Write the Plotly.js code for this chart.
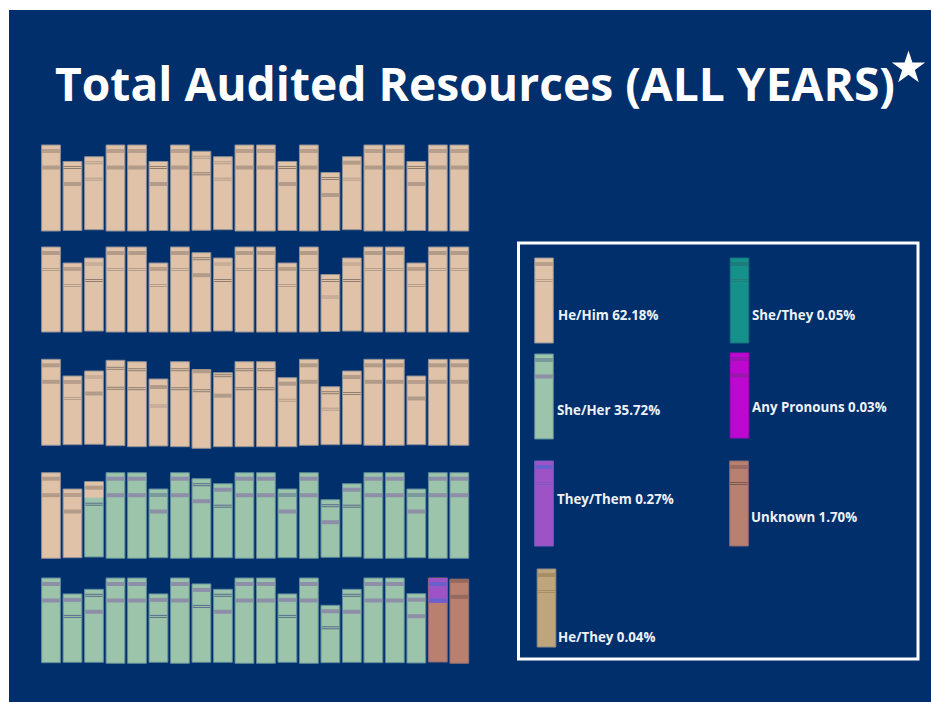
<!DOCTYPE html>
<html>
<head>
<meta charset="utf-8">
<script src="https://cdn.plot.ly/plotly-3.0.1.min.js"></script>
<style>body { margin: 0; background: #fff; }</style>
</head>
<body>
<div id="chart" style="width:932px;height:702px"></div>
<script>
var chartTitle = 'Total Audited Resources (ALL YEARS)';

var seriesKeys = ['he', 'she', 'they', 'hethey', 'shethey', 'any', 'unknown'];
var seriesNames = ['He/Him', 'She/Her', 'They/Them', 'He/They', 'She/They', 'Any Pronouns', 'Unknown'];
var seriesShares = ['62.18%', '35.72%', '0.27%', '0.04%', '0.05%', '0.03%', '1.70%'];
var seriesBookHeights = [85, 85, 85, 78, 85, 85, 85];
var seriesBookStripes = ['dt', 'db', 'bt', 'bt', 'dt', 'db', 'dd'];

// book heights on each shelf
var shelf1Heights = [86, 69, 73, 86, 86, 69, 86, 79, 73, 86, 86, 69, 86, 58, 73, 86, 86, 69, 86, 86];
var shelf2Heights = [85, 69, 73, 85, 85, 69, 85, 79, 73, 85, 85, 69, 85, 57, 73, 85, 85, 69, 85, 85];
var shelf3Heights = [86, 68.7, 73.3, 85.4, 85, 67, 85, 78.6, 74, 85, 85, 69, 86, 58, 73.3, 86, 86, 68.7, 86, 86];
var shelf4Heights = [85.6, 68.7, 75.3, 85.6, 85.6, 68.7, 85.6, 79, 74, 85.6, 85.6, 68.7, 85.6, 57.6, 73.3, 85.6, 85.6, 68.7, 85.6, 85.6];
var shelf5Heights = [84.7, 68.4, 73, 85.3, 85.3, 68.4, 85.3, 78.4, 73, 85.3, 85.3, 68.4, 85.3, 57.4, 73, 84.7, 84.7, 69.3, 84, 84];

// how far each book's foot sits above the shelf line
var shelf1Lifts = [0, 0.5, 1.3, 0, 0, 0.5, 0, 0.7, 1.3, 0, 0, 0.5, 0, 0.5, 1.3, 0, 0, 0.5, 0, 0];
var shelf2Lifts = [0, 0, 1, 0, 0, 0, 0, 0.3, 1, 0, 0, 0, 0, 0.5, 1, 0, 0, 0, 0, 0];
var shelf3Lifts = [0.7, 1.3, 1.7, 0.3, -0.7, 0, -0.7, -2.3, -0.7, -0.7, -0.7, -0.7, 0.7, 1.3, 1.7, 0.7, 0.7, 1.3, 0.7, 0.7];
var shelf4Lifts = [-0.3, 0.3, 1, -0.3, -0.3, 0.3, -0.3, 0.3, 0.3, -0.3, -0.3, 0.3, -0.3, 0.7, 1, -0.3, -0.3, 0.3, -0.3, -0.3];
var shelf5Lifts = [0.3, 0.7, 0.7, -0.3, -0.3, 0.7, -0.3, 0.7, 0.7, -0.3, -0.3, 0.7, -0.3, 0.3, 0.7, 0.3, 0.3, 0, 1, -0.3];

var shelf1Series = ['he', 'he', 'he', 'he', 'he', 'he', 'he', 'he', 'he', 'he', 'he', 'he', 'he', 'he', 'he', 'he', 'he', 'he', 'he', 'he'];
var shelf2Series = shelf1Series;
var shelf3Series = shelf1Series;
var shelf4Series = ['he', 'he', 'she', 'she', 'she', 'she', 'she', 'she', 'she', 'she', 'she', 'she', 'she', 'she', 'she', 'she', 'she', 'she', 'she', 'she'];
var shelf5Series = ['she', 'she', 'she', 'she', 'she', 'she', 'she', 'she', 'she', 'she', 'she', 'she', 'she', 'she', 'she', 'she', 'she', 'she', 'unknown', 'unknown'];

// stripe kinds on each book, upper then lower
var shelf1Stripes = ['db', 'db', 'tt', 'db', 'db', 'db', 'db', 'td', 'tt', 'db', 'db', 'db', 'db', 'db', 'bt', 'db', 'db', 'db', 'db', 'db'];
var shelf2Stripes = ['bt', 'dt', 'td', 'bt', 'bt', 'dt', 'bt', 'db', 'td', 'bt', 'bt', 'dt', 'bt', 'dt', 'td', 'bt', 'bt', 'dt', 'bt', 'bt'];
var shelf3Stripes = ['bb', 'dt', 'tb', 'dd', 'dd', 'bt', 'dd', 'bd', 'db', 'dd', 'dd', 'bt', 'bb', 'dt', 'bd', 'bb', 'bb', 'db', 'bb', 'bb'];
var shelf4Stripes = ['bb', 'db', 'bd', 'bb', 'bb', 'db', 'bb', 'db', 'bd', 'bb', 'bb', 'db', 'bb', 'db', 'bd', 'bb', 'bb', 'db', 'bb', 'bb'];
var shelf5Stripes = ['bb', 'bd', 'db', 'bb', 'bb', 'bd', 'bb', 'bd', 'db', 'bb', 'bb', 'bd', 'bb', 'bd', 'db', 'bb', 'bb', 'bb', 'bb', 'bb'];

// books whose top part is wrapped in another series
var capShelf = [3, 4];
var capBook = [2, 18];
var capHeight = [16, 25];
var capSeries = ['he', 'they'];

// books whose stripes sit away from the usual spot
var offsetShelf = [2, 2, 2, 2, 2, 2, 2, 2, 4];
var offsetBook = [3, 4, 5, 6, 7, 8, 9, 10, 19];
var offsetUpper = [8, 8, 8, 8, 1.5, 3, 8, 8, 1.5];
var offsetLower = [28, 27, 27, 27, 21, 23, 27, 27, 17.5];

var allHeights = [shelf1Heights, shelf2Heights, shelf3Heights, shelf4Heights, shelf5Heights];
var allLifts = [shelf1Lifts, shelf2Lifts, shelf3Lifts, shelf4Lifts, shelf5Lifts];
var allSeries = [shelf1Series, shelf2Series, shelf3Series, shelf4Series, shelf5Series];
var allStripes = [shelf1Stripes, shelf2Stripes, shelf3Stripes, shelf4Stripes, shelf5Stripes];

var W = 932, H = 702;
var navy = '#002f6c';
var shelfLines = [231, 332, 446, 558, 663];
var upperOffset = 6, lowerOffset = 22.5;

var palette = {
  he:      {body: '#dfc2a8', edge: '#8d8f96', band: '#b29c89', line: '#8f7d6f', thin: '#b39d8b'},
  she:     {body: '#9bc4ab', edge: '#5f8a9c', band: '#8d8fa8', line: '#5a6c8a', thin: '#7f92a2'},
  they:    {body: '#9d52c6', edge: '#7d5ac0', band: '#6a60cc', line: '#6a5cc0', thin: '#7f58c0'},
  hethey:  {body: '#bfa57c', edge: '#8f8d86', band: '#a88e64', line: '#97805c', thin: '#a88e64'},
  shethey: {body: '#16908b', edge: '#16737f', band: '#167a74', line: '#26666c', thin: '#267e74'},
  any:     {body: '#bd08d0', edge: '#a208c0', band: '#951aa8', line: '#7a2098', thin: '#951aa8'},
  unknown: {body: '#b98070', edge: '#8d6a72', band: '#946a5e', line: '#7a5852', thin: '#966e62'}
};

var traces = [];

function barTrace(x, y, base, w, colors, edges, xa, ya, edgeWidth) {
  return {
    type: 'bar', x: x, y: y, base: base, width: w,
    marker: {color: colors, line: {color: edges || colors, width: edgeWidth || 0}},
    xaxis: xa, yaxis: ya, showlegend: false, hoverinfo: 'skip'
  };
}

// one colour's worth of stripes goes in as thin bars
function addStripe(store, key, kind, x, center) {
  var p = palette[key];
  if (kind === 'b') {
    store.x.push(x); store.y.push(4); store.base.push(center - 2); store.color.push(p.band);
  } else {
    var c = kind === 'd' ? p.line : p.thin;
    store.x.push(x, x); store.y.push(1, 1);
    store.base.push(center - 1.5, center + 0.5); store.color.push(c, c);
  }
}

function newStore() {
  return {x: [], y: [], base: [], color: []};
}

allHeights.forEach(function (heights, s) {
  var ya = s === 0 ? 'y' : 'y' + (s + 1);
  var xs = heights.map(function (h, i) { return i + 1; });
  var colors = allSeries[s].map(function (k) { return palette[k].body; });
  var edges = allSeries[s].map(function (k) { return palette[k].edge; });
  traces.push(barTrace(xs, heights, allLifts[s], 0.875, colors, edges, 'x', ya, 1));

  var capAt = {};
  capShelf.forEach(function (sh, c) {
    if (sh !== s) return;
    var b = capBook[c];
    capAt[b] = c;
    traces.push(barTrace([b + 1], [capHeight[c]], [allLifts[s][b] + heights[b] - capHeight[c]], 0.86,
      [palette[capSeries[c]].body], null, 'x', ya));
  });

  var store = newStore();
  heights.forEach(function (h, b) {
    var up = upperOffset, low = lowerOffset;
    offsetShelf.forEach(function (sh, o) {
      if (sh === s && offsetBook[o] === b) { up = offsetUpper[o]; low = offsetLower[o]; }
    });
    var top = allLifts[s][b] + h;
    var key = allSeries[s][b];
    var capped = capAt[b] !== undefined;
    var capH = capped ? capHeight[capAt[b]] : 0;
    var capKey = capped ? capSeries[capAt[b]] : key;
    addStripe(store, up < capH ? capKey : key, allStripes[s][b][0], b + 1, top - up);
    addStripe(store, low < capH ? capKey : key, allStripes[s][b][1], b + 1, top - low);
  });
  traces.push(barTrace(store.x, store.y, store.base, 0.82, store.color, null, 'x', ya));
});

// legend sits in its own little plot, one unit to a pixel
var legendX = [26, 26, 26, 28.5, 221.5, 221.5, 221];
var legendFoot = [316, 220, 113, 12, 316, 221, 113];
var legendLabelX = [37.5, 36.5, 36.5, 37.5, 231.5, 231.5, 230.5];
var legendLabelY = [344, 249, 160, 22, 344, 252, 142];

var annotations = [];
seriesKeys.forEach(function (key, i) {
  var p = palette[key];
  var h = seriesBookHeights[i];
  traces.push(barTrace([legendX[i]], [h], [legendFoot[i]], 18.6, [p.body], [p.edge], 'x2', 'y6', 1));
  var store = newStore();
  addStripe(store, key, seriesBookStripes[i][0], legendX[i], legendFoot[i] + h - upperOffset);
  addStripe(store, key, seriesBookStripes[i][1], legendX[i], legendFoot[i] + h - lowerOffset);
  traces.push(barTrace(store.x, store.y, store.base, 17.4, store.color, null, 'x2', 'y6'));
  annotations.push({
    xref: 'x2', yref: 'y6', x: legendLabelX[i], y: legendLabelY[i],
    text: seriesNames[i] + ' ' + seriesShares[i], showarrow: false,
    xanchor: 'left', yanchor: 'middle',
    font: {family: 'Open Sans', size: 13.3, color: '#eef1f6', weight: 700}
  });
});

// the star beside the title is a marker in its own small plot
traces.push({
  type: 'scatter', mode: 'markers', x: [0], y: [0], xaxis: 'x3', yaxis: 'y7',
  marker: {symbol: 'star', size: 25, color: '#ffffff', line: {width: 0}},
  showlegend: false, hoverinfo: 'skip'
});

var bookStep = 21.49, firstCenter = 51;
var shelfLeft = 30, shelfRight = 480;
var layout = {
  width: W, height: H,
  margin: {l: 0, r: 0, t: 0, b: 0},
  paper_bgcolor: '#ffffff',
  plot_bgcolor: 'rgba(0,0,0,0)',
  barmode: 'overlay',
  showlegend: false,
  title: {
    text: chartTitle, x: 55 / W, xanchor: 'left', xref: 'paper',
    y: 1 - 85 / H, yanchor: 'middle', yref: 'paper', pad: {t: 0, b: 0, l: 0, r: 0},
    font: {family: 'Open Sans', size: 46.2, color: '#ffffff', weight: 700}
  },
  xaxis: {
    visible: false, fixedrange: true,
    domain: [shelfLeft / W, shelfRight / W],
    range: [1 + (shelfLeft - firstCenter) / bookStep, 1 + (shelfRight - firstCenter) / bookStep]
  },
  xaxis2: {visible: false, fixedrange: true, domain: [518 / W, 918 / W], range: [0, 400], anchor: 'y6'},
  yaxis6: {visible: false, fixedrange: true, domain: [1 - 659 / H, 1 - 243 / H], range: [0, 416], anchor: 'x2'},
  xaxis3: {visible: false, fixedrange: true, domain: [885 / W, 933 / W], range: [-1, 1], anchor: 'y7'},
  yaxis7: {visible: false, fixedrange: true, domain: [1 - 92 / H, 1 - 44 / H], range: [-1, 1], anchor: 'x3'},
  shapes: [
    {type: 'rect', xref: 'paper', yref: 'paper', x0: 9 / W, x1: 931 / W, y0: 0, y1: 1 - 10 / H,
      fillcolor: navy, line: {width: 0}, layer: 'below'},
    {type: 'rect', xref: 'paper', yref: 'paper', x0: 518.5 / W, x1: 918 / W, y0: 1 - 659 / H, y1: 1 - 243 / H,
      fillcolor: 'rgba(0,0,0,0)', line: {color: '#ffffff', width: 3}, layer: 'below'}
  ],
  annotations: annotations
};

shelfLines.forEach(function (line, s) {
  var name = s === 0 ? 'yaxis' : 'yaxis' + (s + 1);
  layout[name] = {
    visible: false, fixedrange: true, anchor: 'x',
    domain: [1 - (line + 6) / H, 1 - (line - 94) / H], range: [-6, 94]
  };
});

Plotly.newPlot('chart', traces, layout, {staticPlot: true, displayModeBar: false});
</script>
</body>
</html>
